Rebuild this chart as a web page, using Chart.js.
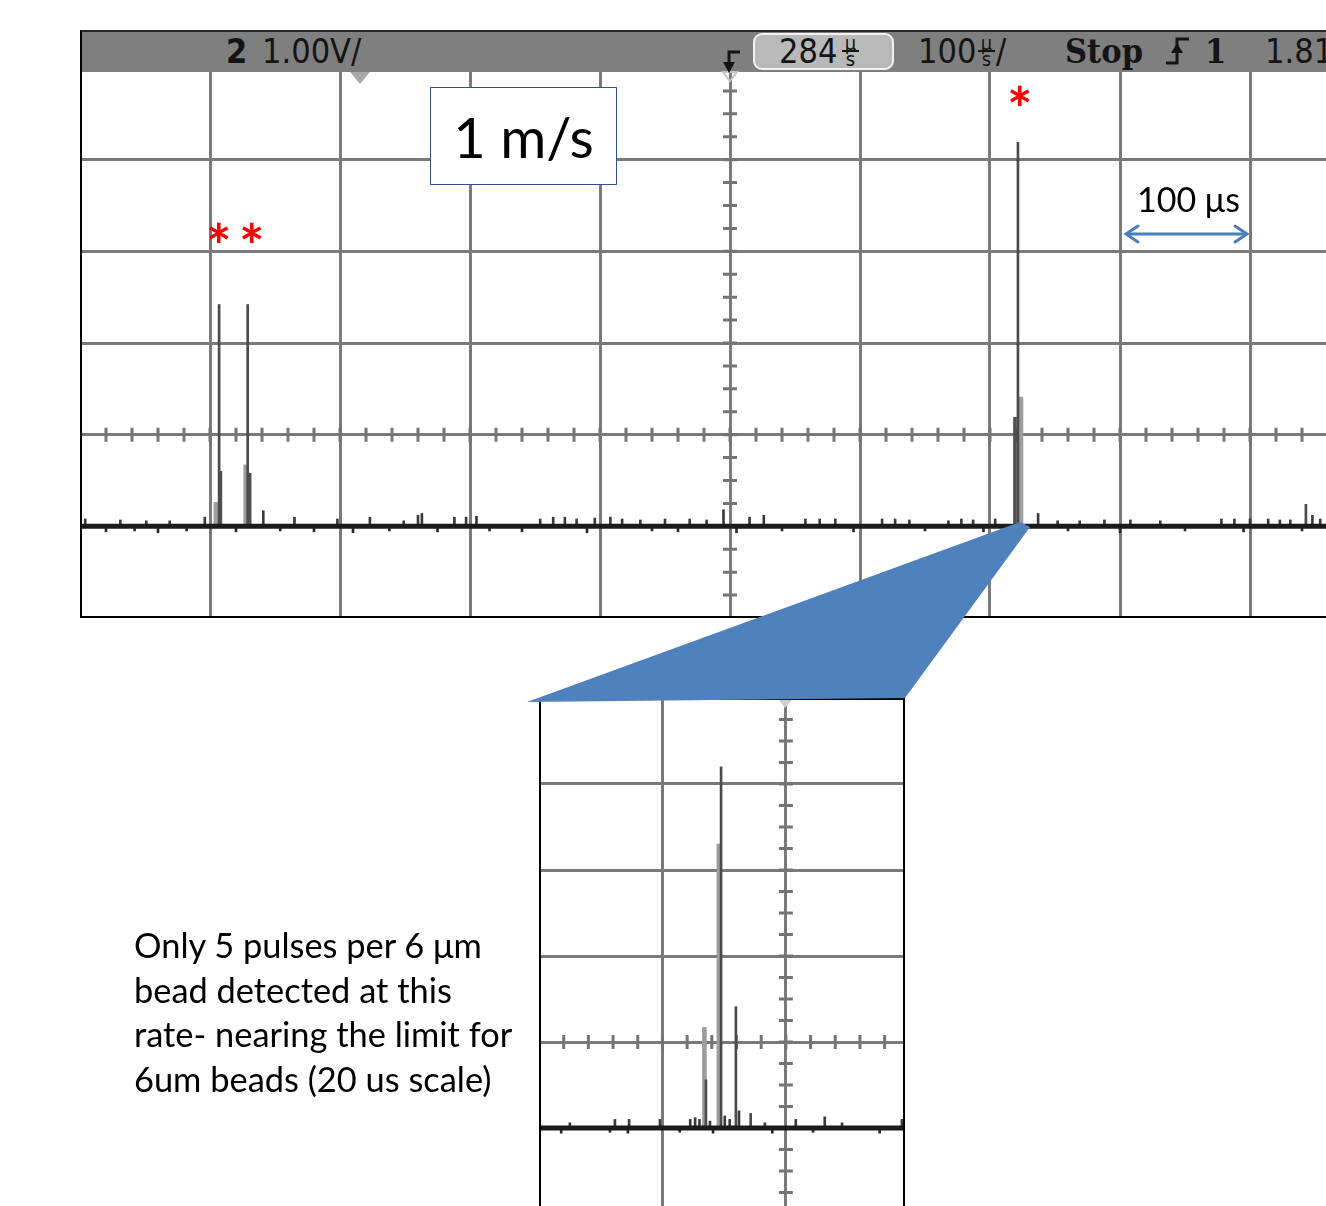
<!DOCTYPE html>
<html>
<head>
<meta charset="utf-8">
<title>1 m/s</title>
<script src="https://cdn.jsdelivr.net/npm/chart.js@4.4.1/dist/chart.umd.min.js"></script>
<style>
html, body { margin: 0; padding: 0; background: #fff; overflow: hidden; }
body { position: relative; width: 1326px; height: 1206px; font-family: Lato, sans-serif; }
.wrap { position: absolute; }
#mainWrap { left: 80px; top: 30px; width: 1300px; height: 588px; }
#zoomWrap { left: 539px; top: 698px; width: 366px; height: 516px; }
#hdr { position: absolute; left: 80px; top: 30px; width: 1246px; height: 42px; box-sizing: border-box;
       background: #7f7f7f; border-top: 2px solid #262626; border-left: 2px solid #000; color: #141414;
       font-family: 'DejaVu Sans Condensed', 'DejaVu Sans', sans-serif; font-stretch: condensed; font-size: 34px; }
#hdr span { position: absolute; top: -2px; line-height: 42px; white-space: nowrap; }
#hdr .b { font-weight: bold; }
#hdr .serif { font-family: 'DejaVu Serif Condensed', 'DejaVu Serif', serif; font-weight: bold; }
#hdr .pill { top: 1px; height: 37px; width: 141px; box-sizing: border-box; background: #b9b9b9;
             border: 2px solid #f2f2f2; border-radius: 9px; }
#hdr .us { top: 5px; width: 19px; line-height: 13px; font-size: 20px; display: flex; flex-direction: column; align-items: center; }
#hdr .us i { font-style: normal; display: block; }
#hdr .us i + i { border-top: 2px solid #141414; padding-top: 1px; width: 17px; text-align: center; }
svg { position: absolute; left: 0; top: 0; }
.note { position: absolute; white-space: nowrap; color: #000; }
#speed { left: 430px; top: 87px; width: 187px; height: 98px; box-sizing: border-box; border: 1.5px solid #2f528f;
         background: #fff; display: flex; align-items: center; justify-content: center; font-size: 56px; }
.star { position: absolute; color: #ff0000; font-size: 60px; line-height: 60px; font-weight: bold; }
#scale { left: 1137px; top: 182px; font-size: 34px; line-height: 34px; }
#caption { left: 134px; top: 923px; font-size: 34.4px; line-height: 44.6px; }
</style>
</head>
<body>
<div id="mainWrap" class="wrap"><canvas id="mainChart"></canvas></div>
<div id="zoomWrap" class="wrap"><canvas id="zoomChart"></canvas></div>

<div id="hdr">
  <span class="b" style="left:144px">2</span>
  <span style="left:180px">1.00V/</span>
  <span class="pill" style="left:671px"></span>
  <span style="left:697px">284</span>
  <span class="us" style="left:759px"><i>µ</i><i>s</i></span>
  <span style="left:836px">100</span>
  <span class="us" style="left:895px"><i>µ</i><i>s</i></span>
  <span style="left:914px">/</span>
  <span class="serif" style="left:983px">Stop</span>
  <span class="serif" style="left:1123px">1</span>
  <span style="left:1183px">1.81</span>
</div>

<svg width="1326" height="1206">
  <polygon points="350,72 370,72 360,84" fill="#a9a9a9"/>
  <polygon points="723,72 737,72 730,81" fill="none" stroke="#c4c4c4" stroke-width="2"/>
  <polygon points="779,700 792,700 785,708" fill="#d0d0d0"/>
  <path d="M740,52 H729 V66" fill="none" stroke="#141414" stroke-width="3"/>
  <polygon points="723,62 735,62 729,73" fill="#141414"/>
  <path d="M1166,63 H1177 V39 H1189" fill="none" stroke="#141414" stroke-width="3"/>
  <polygon points="1171,53 1183,53 1177,43" fill="#141414"/>
  <polygon points="1020,522 1030,527 905,698 527,702" fill="#4f81bd"/>
  <line x1="1127" y1="234" x2="1246" y2="234" stroke="#4a7ebb" stroke-width="3"/>
  <polyline points="1138,226 1126,234 1138,242" fill="none" stroke="#4a7ebb" stroke-width="3" stroke-linecap="round"/>
  <polyline points="1235,226 1247,234 1235,242" fill="none" stroke="#4a7ebb" stroke-width="3" stroke-linecap="round"/>
</svg>

<div id="speed" class="note">1 m/s</div>
<div class="star" style="left:206px;top:215px">*</div>
<div class="star" style="left:239px;top:215px">*</div>
<div class="star" style="left:1007px;top:78px">*</div>
<div id="scale" class="note">100 μs</div>
<div id="caption" class="note">Only 5 pulses per 6 μm<br>bead detected at this<br>rate- nearing the limit for<br>6um beads (20 us scale)</div>

<script>
// main screen: 100 us/div, 1 V/div, time relative to screen centre
var mainBaseT = [-500, 500];
var mainBaseV = [0, 0];
var mainPulseT = [-393, -371, 221.5, 443];
var mainPulseV = [2.42, 2.42, 4.19, 0.24];
var mainDarkT = [-392, -369.5, 219.2];
var mainDarkV = [0.6, 0.58, 1.19];
var mainLightT = [-395.5, -372.5, 223.8];
var mainLightV = [0.26, 0.67, 1.41];
var mainNoiseT = [-496, -469, -449, -431, -404, -359, -335, -302, -277, -251, -240, -237, -212, -203, -195,
    -146, -136, -127, -118, -104, -92, -83, -69, -50, -31, -18, -5, 15, 26, 58, 69, 81, 117, 127, 138,
    168, 178, 187, 204, 237, 252, 269, 288, 308, 331, 378, 388, 400, 414, 423, 431, 448, 454];
var mainNoiseV = [0.08, 0.07, 0.06, 0.06, 0.1, 0.17, 0.1, 0.08, 0.1, 0.06, 0.12, 0.14, 0.1, 0.1, 0.11,
    0.08, 0.1, 0.1, 0.08, 0.09, 0.1, 0.08, 0.07, 0.08, 0.08, 0.07, 0.18, 0.1, 0.12, 0.08, 0.08, 0.08, 0.08, 0.08, 0.07,
    0.06, 0.08, 0.07, 0.08, 0.14, 0.06, 0.06, 0.07, 0.07, 0.06, 0.08, 0.08, 0.08, 0.08, 0.07, 0.07, 0.12, 0.08];
var mainDipT = [-480, -458, -440, -418, -380, -346, -320, -290, -262, -225, -185, -160, -110, -60, -40,
    5, 40, 95, 150, 195, 260, 300, 350, 395, 440];
var mainDipV = [-0.06, -0.05, -0.07, -0.05, -0.06, -0.05, -0.06, -0.07, -0.05, -0.06, -0.05, -0.06, -0.07, -0.05, -0.06,
    -0.07, -0.05, -0.06, -0.05, -0.06, -0.05, -0.07, -0.05, -0.06, -0.05];

// zoomed view: 20 us/div, 1 V/div
var zoomBaseT = [-40, 19.3];
var zoomBaseV = [0, 0];
var zoomPulseT = [-12.95, -10.5, -8.1, -5.7];
var zoomPulseV = [0.56, 4.2, 1.41, 0.17];
var zoomLightT = [-13.2, -10.85];
var zoomLightV = [1.17, 3.3];
var zoomNoiseT = [-35.0, -27.7, -25.4, -20.4, -15.5, -14.7, -14.0, -12.3, -9.9, -9.1, -7.6, -3.4, 1.6, 6.3, 9.1, 18.8];
var zoomNoiseV = [0.06, 0.1, 0.1, 0.1, 0.1, 0.12, 0.1, 0.08, 0.14, 0.1, 0.2, 0.06, 0.1, 0.13, 0.06, 0.1];
var zoomDipT = [-36.4, -28.5, -25.6, -17.2, -11.8, -2.2, 4.4, 15.2];
var zoomDipV = [-0.06, -0.05, -0.06, -0.05, -0.06, -0.06, -0.05, -0.06];

function pts(ts, vs) {
    return ts.map(function (t, i) { return { x: t, y: vs[i] }; });
}

// minor ticks on the centre cross of the graticule
var centreTicks = {
    id: 'centreTicks',
    beforeDatasetsDraw: function (chart, args, o) {
        var xs = chart.scales.x, ys = chart.scales.y, ctx = chart.ctx;
        var cx = xs.getPixelForValue(o.xc), cy = ys.getPixelForValue(o.yc);
        ctx.save();
        ctx.strokeStyle = '#747474';
        ctx.lineWidth = 3;
        ctx.beginPath();
        for (var i = 0; xs.min + i * o.dx <= xs.max; i++) {
            var px = xs.getPixelForValue(xs.min + i * o.dx);
            ctx.moveTo(px, cy - 7); ctx.lineTo(px, cy + 7);
        }
        for (var j = 0; ys.min + j * o.dy <= ys.max; j++) {
            var py = ys.getPixelForValue(ys.min + j * o.dy);
            ctx.moveTo(cx - 7, py); ctx.lineTo(cx + 7, py);
        }
        ctx.stroke();
        ctx.restore();
    }
};

// black screen border; the side named in `open` runs off the page
var frame = {
    id: 'frame',
    afterDraw: function (chart, args, o) {
        var ctx = chart.ctx, w = chart.width, h = chart.height;
        ctx.save();
        ctx.strokeStyle = '#000';
        ctx.lineWidth = 2;
        if (o.open === 'right') ctx.strokeRect(1, 1, w + 20, h - 2);
        else ctx.strokeRect(1, 1, w - 2, h + 20);
        ctx.restore();
    }
};

function scopeOptions(xmin, xmax, xstep, ymin, ymax, padTop, ticks, open) {
    return {
        responsive: true,
        maintainAspectRatio: false,
        animation: false,
        events: [],
        layout: { padding: { top: padTop } },
        plugins: { legend: { display: false }, tooltip: { enabled: false }, centreTicks: ticks, frame: { open: open } },
        scales: {
            x: {
                type: 'linear', min: xmin, max: xmax, offset: false,
                ticks: { display: false, stepSize: xstep },
                grid: { color: '#7a7a7a', lineWidth: 3, drawTicks: false, offset: false },
                border: { display: false }
            },
            y: {
                min: ymin, max: ymax,
                ticks: { display: false, stepSize: 1 },
                grid: { color: '#7a7a7a', lineWidth: 3, drawTicks: false },
                border: { display: false }
            }
        }
    };
}

function traceSets(baseT, baseV, pulseT, pulseV, lightT, lightV, noiseT, noiseV, dipT, dipV, darkT, darkV) {
    var sets = [
        { type: 'line', data: pts(baseT, baseV), borderColor: '#1b1b1b', borderWidth: 5, pointRadius: 0 },
        { data: pts(pulseT, pulseV), backgroundColor: '#4a4a4a', barThickness: 2, grouped: false },
        { data: pts(noiseT, noiseV), backgroundColor: '#3a3a3a', barThickness: 2, grouped: false },
        { data: pts(dipT, dipV), backgroundColor: '#2a2a2a', barThickness: 2, grouped: false }
    ];
    if (darkT) {
        sets.push({ data: pts(darkT, darkV), backgroundColor: '#505050', barThickness: 3, grouped: false });
    }
    sets.push({ data: pts(lightT, lightV), backgroundColor: '#9d9d9d', barThickness: 4, grouped: false });
    return sets;
}

new Chart(document.getElementById('mainChart'), {
    type: 'bar',
    data: { datasets: traceSets(mainBaseT, mainBaseV, mainPulseT, mainPulseV, mainLightT, mainLightV,
        mainNoiseT, mainNoiseV, mainDipT, mainDipV, mainDarkT, mainDarkV) },
    options: scopeOptions(-500, 500, 100, -1, 5, 38, { xc: 0, yc: 1, dx: 20, dy: 0.25 }, 'right'),
    plugins: [centreTicks, frame]
});

new Chart(document.getElementById('zoomChart'), {
    type: 'bar',
    data: { datasets: traceSets(zoomBaseT, zoomBaseV, zoomPulseT, zoomPulseV, zoomLightT, zoomLightV,
        zoomNoiseT, zoomNoiseV, zoomDipT, zoomDipV) },
    options: scopeOptions(-40, 19.3, 20, -1, 5, 0, { xc: 0, yc: 1, dx: 4, dy: 0.25 }, 'bottom'),
    plugins: [centreTicks, frame]
});
</script>
</body>
</html>
